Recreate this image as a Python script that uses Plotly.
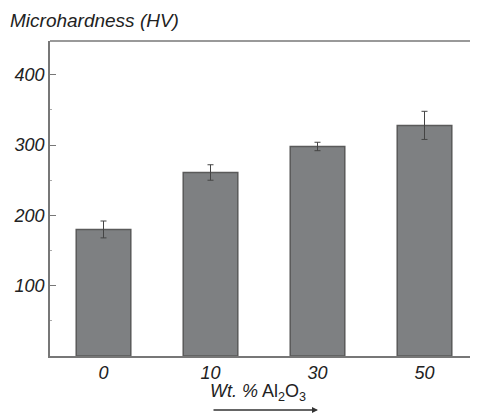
import plotly.graph_objects as go

categories = ["0", "10", "30", "50"]
hardness = [180, 261, 298, 328]
errors = [12, 11, 6, 20]
y_ticks = [100, 200, 300, 400]

# page body has an 8px default margin; size the figure to the visible area
OFF = 8
W, H = 478 - OFF, 414 - OFF
L, R, T, B = 50 - OFF, 0, 41 - OFF, 58

fig = go.Figure()
fig.add_trace(go.Bar(
    x=list(range(len(categories))),
    y=hardness,
    width=0.51,
    marker=dict(color="#7e8082", line=dict(color="#5a5a5a", width=1.5)),
    error_y=dict(type="data", array=errors, visible=True, color="#444444", thickness=1, width=3),
))

font_family = "Liberation Sans, Arial, sans-serif"

fig.update_layout(
    width=W, height=H,
    margin=dict(l=L, r=R, t=T, b=B, autoexpand=False),
    plot_bgcolor="white", paper_bgcolor="white",
    showlegend=False,
    font=dict(family=font_family, color="#222222"),
    xaxis=dict(
        range=[-0.5, 3.5],
        tickvals=list(range(len(categories))),
        ticktext=[f"<i>{c}</i>" for c in categories],
        tickfont=dict(size=18, family=font_family, color="#222222"),
        ticklabelstandoff=0,
        showline=True, linecolor="#777777", linewidth=1.5,
        ticks="", showgrid=False, zeroline=False,
    ),
    yaxis=dict(
        range=[0, 448],
        tickvals=y_ticks,
        ticktext=[f"<i>{v}</i>" for v in y_ticks],
        tickfont=dict(size=18, family=font_family, color="#222222"),
        showline=True, linecolor="#777777", linewidth=1.5,
        ticks="inside", ticklen=6, tickcolor="#777777", tickwidth=1.2,
        minor=dict(dtick=50, ticks="inside", ticklen=2, tickcolor="#aaaaaa"),
        showgrid=False, zeroline=False,
    ),
)

# top frame line
fig.add_shape(type="line", xref="paper", yref="paper", x0=0, x1=1, y0=1, y1=1,
              line=dict(color="#999999", width=2))

pw = W - L - R
ph = H - T - B

def px_x(x):
    return (x - OFF - L) / pw

def px_y(y):
    return (H - B - (y - OFF)) / ph

fig.add_annotation(
    text="<i>Microhardness (HV)</i>", xref="paper", yref="paper",
    x=px_x(8), y=px_y(20), xanchor="left", yanchor="middle",
    showarrow=False, font=dict(size=19, family=font_family, color="#222222"),
)
fig.add_annotation(
    text="<i>Wt. %</i> Al<sub>2</sub>O<sub>3</sub>", xref="paper", yref="paper",
    x=px_x(258), y=px_y(392), xanchor="center", yanchor="middle",
    showarrow=False, font=dict(size=18, family=font_family, color="#222222"),
)
fig.add_annotation(
    xref="paper", yref="paper", axref="pixel", ayref="pixel",
    x=px_x(318), y=px_y(410), ax=-106, ay=0,
    text="", showarrow=True, arrowhead=2, arrowsize=0.8, arrowwidth=1.5,
    arrowcolor="#333333",
)

fig.write_html("out.html")
